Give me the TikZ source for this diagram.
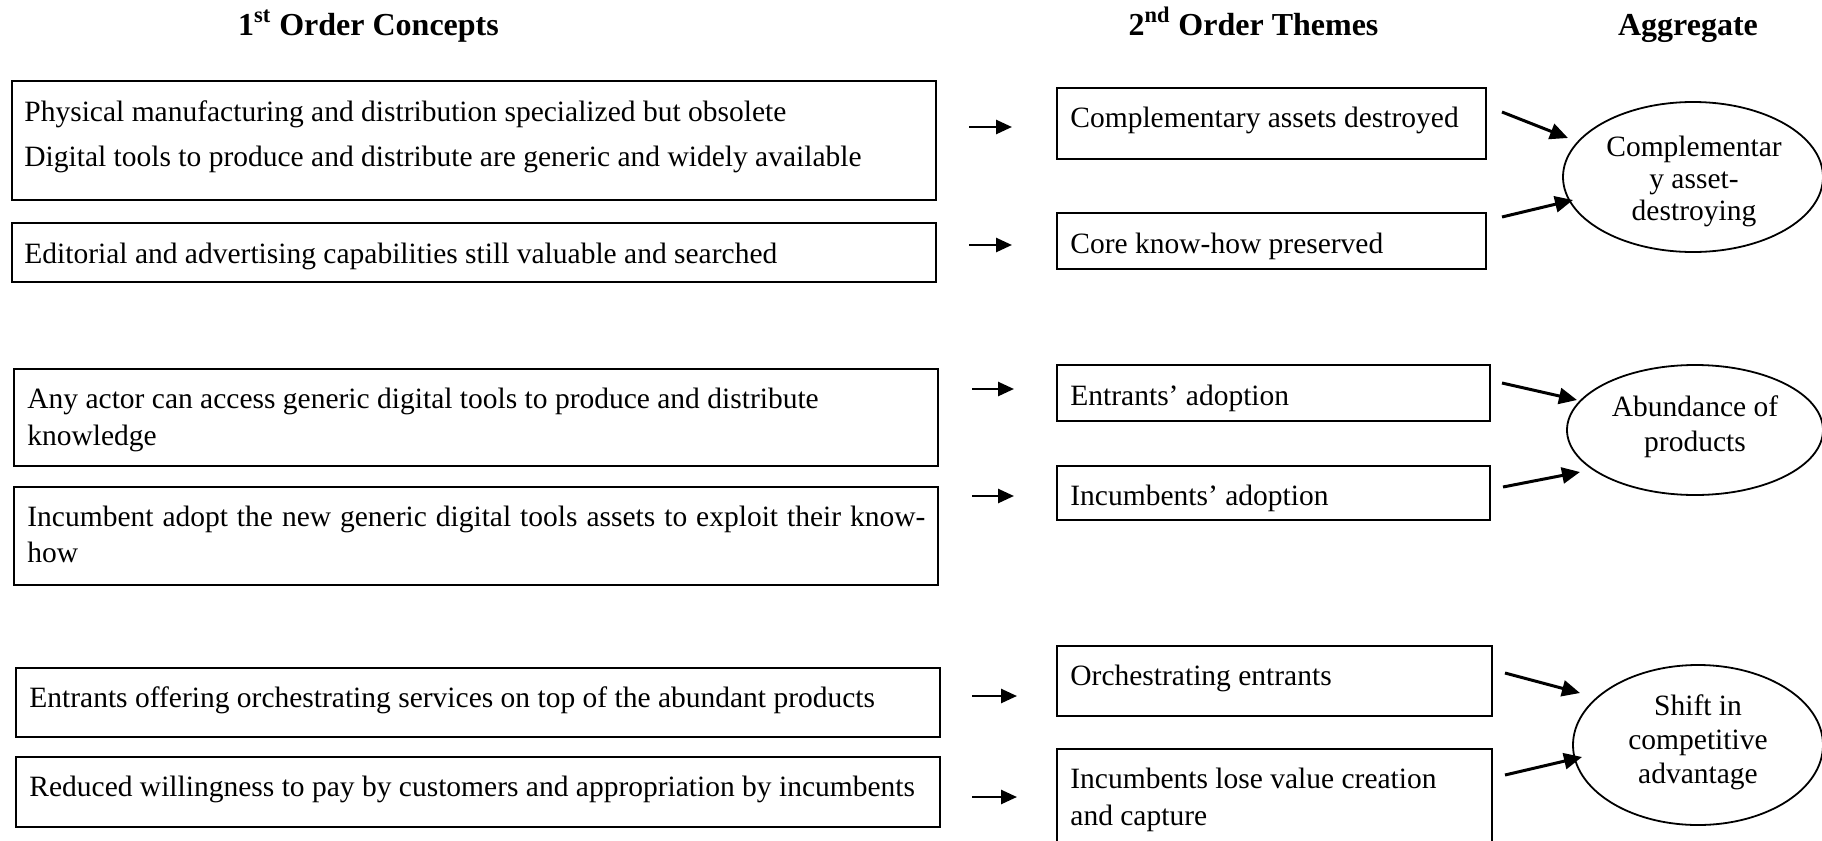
\documentclass[tikz,border=0pt]{standalone}
\usepackage{fontspec}
\setmainfont{Liberation Serif}
\usetikzlibrary{arrows.meta,shapes.geometric}
\tikzset{
  box/.style={draw, line width=1pt, inner sep=0pt, outer sep=0pt},
  txt/.style={inner sep=0pt, anchor=base west, font=\fontsize{14.75}{18}\selectfont},
  ctxt/.style={inner sep=0pt, anchor=base, font=\fontsize{14.75}{18}\selectfont},
  head/.style={inner sep=0pt, anchor=base, font=\fontsize{16}{19}\selectfont\bfseries},
  agg/.style={draw, ellipse, line width=0.9pt, inner sep=0pt},
  smallarr/.style={line width=1.3pt, -{Triangle[length=8pt,width=7pt]}},
  bigarr/.style={line width=1.5pt, -{Triangle[length=9pt,width=8pt]}}
}
\begin{document}
\begin{tikzpicture}[x=0.5pt,y=-0.5pt]
\useasboundingbox (0,0) rectangle (1822,841);
% headers
\node[head] (h1) at (368.5,35) {1\textsuperscript{st} Order Concepts};
\node[head] (h2) at (1253.5,35) {2\textsuperscript{nd} Order Themes};
\node[head] (h3) at (1688,35) {Aggregate};
% first order boxes
\node[box, minimum width=462.25pt, minimum height=59.5pt] (a1) at (473.75,140.5) {};
\node[box, minimum width=462.25pt, minimum height=29.5pt] (a2) at (473.75,252.5) {};
\node[box, minimum width=462pt, minimum height=48.5pt] (b1) at (476,417.5) {};
\node[box, minimum width=462pt, minimum height=49pt] (b2) at (476,536) {};
\node[box, minimum width=462pt, minimum height=34.5pt] (c1) at (478,702.5) {};
\node[box, minimum width=462pt, minimum height=35pt] (c2) at (478,792) {};
\node[txt] (a1t) at (24,121.5) {\parbox[t]{455pt}{\fontsize{14.75}{22.5}\selectfont Physical manufacturing and distribution specialized but obsolete\\Digital tools to produce and distribute are generic and widely available}};
\node[txt] (a2t) at (24,263) {Editorial and advertising capabilities still valuable and searched};
\node[txt] (b1t) at (27,408.5) {\parbox[t]{450pt}{\fontsize{14.75}{18.5}\selectfont Any actor can access generic digital tools to produce and distribute\\knowledge}};
\node[txt] (b2t) at (27,526) {\parbox[t]{450pt}{\fontsize{14.75}{18}\selectfont \makebox[449pt][s]{Incumbent adopt the new generic digital tools assets to exploit their know-}\\how}};
\node[txt] (c1t) at (29,707.5) {Entrants offering orchestrating services on top of the abundant products};
\node[txt] (c2t) at (29,796.5) {Reduced willingness to pay by customers and appropriation by incumbents};
% second order boxes
\node[box, minimum width=214.5pt, minimum height=35.5pt] (t1) at (1271.5,123.5) {};
\node[box, minimum width=214.5pt, minimum height=28pt] (t2) at (1271.5,241) {};
\node[box, minimum width=216.5pt, minimum height=28pt] (e1) at (1273.5,393) {};
\node[box, minimum width=216.5pt, minimum height=27pt] (e2) at (1273.5,493) {};
\node[box, minimum width=217.5pt, minimum height=35pt] (o1) at (1274.5,681) {};
\node[box, minimum width=217.5pt, minimum height=50.5pt] (o2) at (1274.5,799.5) {};
\node[txt] (t1t) at (1070,127) {Complementary assets destroyed};
\node[txt] (t2t) at (1070,253) {Core know-how preserved};
\node[txt] (e1t) at (1070,405) {Entrants’ adoption};
\node[txt] (e2t) at (1070,505) {Incumbents’ adoption};
\node[txt] (o1t) at (1070,685.5) {Orchestrating entrants};
\node[txt] (o2t) at (1070,788.5) {\parbox[t]{205pt}{\fontsize{14.75}{18.25}\selectfont Incumbents lose value creation\\and capture}};
% aggregate ellipses
\node[agg, minimum width=130pt, minimum height=75pt] (g1) at (1693,177) {};
\node[agg, minimum width=128pt, minimum height=65pt] (g2) at (1695,430) {};
\node[agg, minimum width=125pt, minimum height=80pt] (g3) at (1698,745) {};
\node[ctxt] (g1t) at (1694,156) {\parbox[t]{120pt}{\centering\fontsize{14.75}{16}\selectfont Complementar\\y asset-\\destroying}};
\node[ctxt] (g2t) at (1695,416) {\parbox[t]{120pt}{\centering\fontsize{14.75}{17.5}\selectfont Abundance of\\products}};
\node[ctxt] (g3t) at (1698,715) {\parbox[t]{120pt}{\centering\fontsize{14.75}{17}\selectfont Shift in\\competitive\\advantage}};
% small arrow coordinates
\coordinate (sa1) at (969,127);   \coordinate (ea1) at (1012,127);
\coordinate (sa2) at (969,245);   \coordinate (ea2) at (1012,245);
\coordinate (sb1) at (972,389);   \coordinate (eb1) at (1014,389);
\coordinate (sb2) at (972,496);   \coordinate (eb2) at (1014,496);
\coordinate (sc1) at (972,696);   \coordinate (ec1) at (1017,696);
\coordinate (sc2) at (972,797);   \coordinate (ec2) at (1017,797);
\draw[smallarr] (sa1) -- (ea1);
\draw[smallarr] (sa2) -- (ea2);
\draw[smallarr] (sb1) -- (eb1);
\draw[smallarr] (sb2) -- (eb2);
\draw[smallarr] (sc1) -- (ec1);
\draw[smallarr] (sc2) -- (ec2);
% big arrow coordinates
\coordinate (st1) at (1502,112); \coordinate (et1) at (1568,138);
\coordinate (st2) at (1502,217); \coordinate (et2) at (1573,200);
\coordinate (se1) at (1502,383); \coordinate (ee1) at (1577,400);
\coordinate (se2) at (1503,487); \coordinate (ee2) at (1580,472);
\coordinate (so1) at (1505,673); \coordinate (eo1) at (1580,693);
\coordinate (so2) at (1505,775); \coordinate (eo2) at (1582,757);
\draw[bigarr] (st1) -- (et1);
\draw[bigarr] (st2) -- (et2);
\draw[bigarr] (se1) -- (ee1);
\draw[bigarr] (se2) -- (ee2);
\draw[bigarr] (so1) -- (eo1);
\draw[bigarr] (so2) -- (eo2);
\end{tikzpicture}
\end{document}
